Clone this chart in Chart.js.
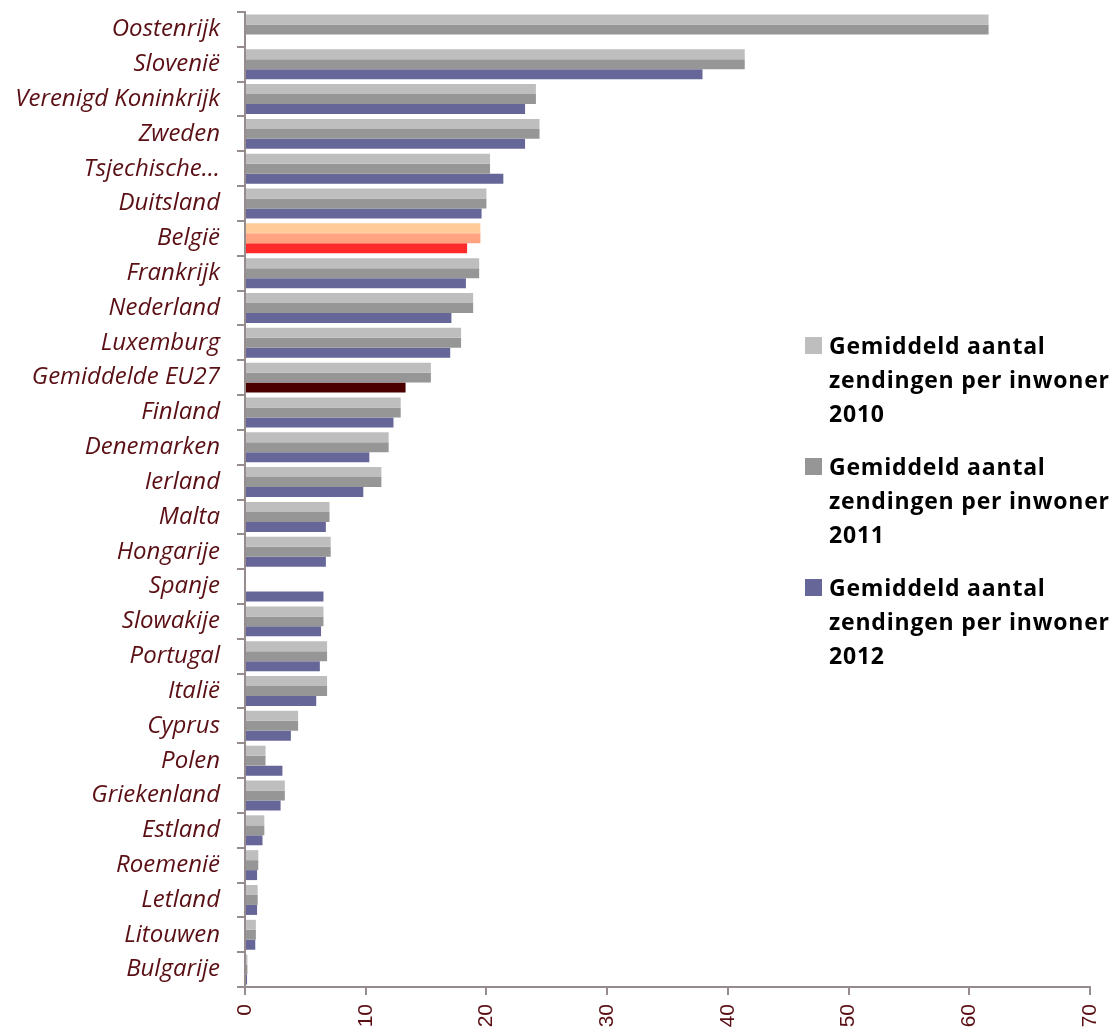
<!DOCTYPE html>
<html>
<head>
<meta charset="utf-8">
<script src="https://cdn.jsdelivr.net/npm/chart.js@4/dist/chart.umd.min.js"></script>
<style>
  body { margin: 0; background: #fff; }
  #wrap { position: relative; width: 1115px; height: 1032px; }
  #legend { position: absolute; left: 805px; top: 328px; width: 310px; font-family: "Open Sans", sans-serif; font-weight: bold; font-size: 23px; line-height: 34px; color: #000; letter-spacing: 0.8px; }
  #legend .item { position: relative; padding-left: 24px; margin-bottom: 19px; }
  #legend .box { position: absolute; left: 0; top: 9px; width: 17px; height: 17px; }
</style>
</head>
<body>
<div id="wrap">
  <canvas id="myChart" width="1115" height="1032"></canvas>
  <div id="legend"></div>
</div>
<script>
const categories = ["Oostenrijk", "Slovenië", "Verenigd Koninkrijk", "Zweden", "Tsjechische…", "Duitsland", "België", "Frankrijk", "Nederland", "Luxemburg", "Gemiddelde EU27", "Finland", "Denemarken", "Ierland", "Malta", "Hongarije", "Spanje", "Slowakije", "Portugal", "Italië", "Cyprus", "Polen", "Griekenland", "Estland", "Roemenië", "Letland", "Litouwen", "Bulgarije"];
const values2010 = [61.6, 41.4, 24.1, 24.4, 20.3, 20.0, 19.5, 19.4, 18.9, 17.9, 15.4, 12.9, 11.9, 11.3, 7.0, 7.1, null, 6.5, 6.8, 6.8, 4.4, 1.7, 3.3, 1.6, 1.1, 1.05, 0.9, 0.2];
const values2011 = [61.6, 41.4, 24.1, 24.4, 20.3, 20.0, 19.5, 19.4, 18.9, 17.9, 15.4, 12.9, 11.9, 11.3, 7.0, 7.1, null, 6.5, 6.8, 6.8, 4.4, 1.7, 3.3, 1.6, 1.1, 1.05, 0.9, 0.2];
const values2012 = [null, 37.9, 23.2, 23.2, 21.4, 19.6, 18.4, 18.3, 17.1, 17.0, 13.3, 12.3, 10.3, 9.8, 6.7, 6.7, 6.5, 6.3, 6.2, 5.9, 3.8, 3.1, 2.95, 1.45, 1.0, 1.0, 0.85, 0.17];
const seriesNames = ["Gemiddeld aantal zendingen per inwoner 2010", "Gemiddeld aantal zendingen per inwoner 2011", "Gemiddeld aantal zendingen per inwoner 2012"];
const xTicks = [0, 10, 20, 30, 40, 50, 60, 70];

const seriesColors = ["#bebebe", "#969696", "#666699"];
const belgiumColors = ["#ffcc99", "#ffa380", "#ff2a2a"];
const euColors = ["#bebebe", "#969696", "#4b0000"];
const textColor = "#5a0f14";
const axisColor = "#968c8e";

function barColor(i) {
  return ctx => {
    const label = categories[ctx.dataIndex];
    if (label === "België") return belgiumColors[i];
    if (label === "Gemiddelde EU27") return euColors[i];
    return seriesColors[i];
  };
}

const ctx = document.getElementById('myChart');
const allValues = [values2010, values2011, values2012];

const myChart = new Chart(ctx, {
  type: "bar",
  data: {
    labels: categories,
    datasets: allValues.map((vals, i) => ({
      label: seriesNames[i],
      data: vals,
      backgroundColor: barColor(i),
      barPercentage: 1,
      categoryPercentage: 0.86
    }))
  },
  options: {
    indexAxis: 'y',
    responsive: false,
    animation: false,
    layout: { padding: { top: 12, right: 25, left: 0, bottom: 0 } },
    plugins: { legend: { display: false }, tooltip: { enabled: false } },
    scales: {
      x: {
        min: 0,
        max: 70,
        afterBuildTicks: scale => { scale.ticks = xTicks.map(v => ({ value: v })); },
        afterFit: scale => {
          scale.height = 45;
          scale.paddingLeft = 0;
          scale.paddingRight = 0;
        },
        ticks: {
          minRotation: 90,
          maxRotation: 90,
          padding: 9,
          color: textColor,
          font: { family: "Liberation Sans", size: 21 }
        },
        grid: { drawOnChartArea: false, drawTicks: true, tickLength: 8, color: axisColor, lineWidth: 2 },
        border: { color: axisColor, width: 2 }
      },
      y: {
        afterFit: scale => {
          scale.width = 245;
          scale.paddingTop = 0;
          scale.paddingBottom = 0;
        },
        ticks: {
          padding: 17,
          color: textColor,
          font: { family: "Open Sans", style: "italic", size: 24 }
        },
        grid: { offset: true, drawOnChartArea: false, drawTicks: true, tickLength: 8, color: axisColor, lineWidth: 2 },
        border: { color: axisColor, width: 2 }
      }
    }
  }
});

// legend with wrapped text
const legendEl = document.getElementById("legend");
seriesNames.forEach((name, i) => {
  const item = document.createElement("div");
  item.className = "item";
  item.innerHTML = '<span class="box" style="background:' + seriesColors[i] + '"></span>' + name;
  legendEl.appendChild(item);
});
</script>
</body>
</html>
